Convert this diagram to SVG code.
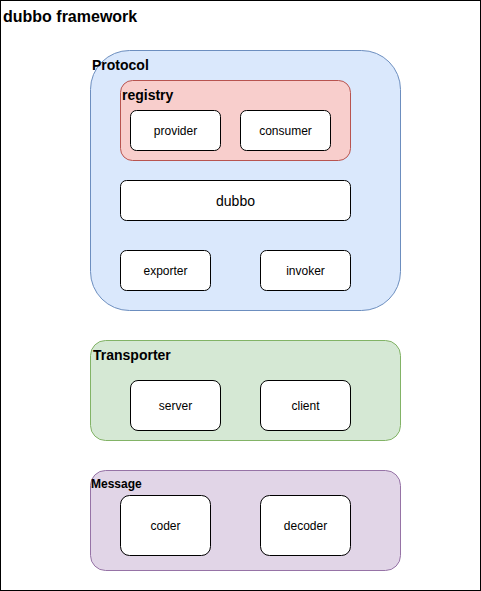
<svg xmlns="http://www.w3.org/2000/svg" width="481" height="591" viewBox="0 0 481 591">
<style>
text{font-family:"Liberation Sans",Arial,sans-serif;fill:#000}
.t{font-weight:bold}
.n{fill:#fff;stroke:#000;stroke-width:1}
.l{font-size:12px;text-anchor:middle}
</style>
<rect width="481" height="591" fill="#fff"/>
<g id="framework">
<rect x="0.5" y="0.5" width="480" height="590" fill="#fff" stroke="#000"/>
<text class="t" x="3" y="22" font-size="16">dubbo framework</text>
</g>
<g id="protocol">
<rect x="90.5" y="50.5" width="310" height="260" rx="39" fill="#dae8fc" stroke="#6c8ebf"/>
<text class="t" x="92" y="70" font-size="14">Protocol</text>
</g>
<g id="registry">
<rect x="120.5" y="80.5" width="230" height="80" rx="12" fill="#f8cecc" stroke="#b85450"/>
<text class="t" x="122" y="100" font-size="14">registry</text>
</g>
<g id="provider"><rect class="n" x="130.5" y="110.5" width="90" height="40" rx="6"/><text class="l" x="175.5" y="135">provider</text></g>
<g id="consumer"><rect class="n" x="240.5" y="110.5" width="90" height="40" rx="6"/><text class="l" x="285.5" y="135">consumer</text></g>
<g id="dubbo"><rect class="n" x="120.5" y="180.5" width="230" height="40" rx="6"/><text x="235.5" y="205.5" font-size="14" text-anchor="middle">dubbo</text></g>
<g id="exporter"><rect class="n" x="120.5" y="250.5" width="90" height="40" rx="6"/><text class="l" x="165.5" y="275">exporter</text></g>
<g id="invoker"><rect class="n" x="260.5" y="250.5" width="90" height="40" rx="6"/><text class="l" x="305.5" y="275">invoker</text></g>
<g id="transporter">
<rect x="90.5" y="340.5" width="310" height="100" rx="15" fill="#d5e8d4" stroke="#82b366"/>
<text class="t" x="93" y="360" font-size="14">Transporter</text>
</g>
<g id="server"><rect class="n" x="130.5" y="380.5" width="90" height="50" rx="7.5"/><text class="l" x="175.5" y="410">server</text></g>
<g id="client"><rect class="n" x="260.5" y="380.5" width="90" height="50" rx="7.5"/><text class="l" x="305.5" y="410">client</text></g>
<g id="message">
<rect x="90.5" y="470.5" width="310" height="100" rx="15" fill="#e1d5e7" stroke="#9673a6"/>
<text class="t" x="91" y="488" font-size="12">Message</text>
</g>
<g id="coder"><rect class="n" x="120.5" y="495.5" width="90" height="60" rx="9"/><text class="l" x="165.5" y="530">coder</text></g>
<g id="decoder"><rect class="n" x="260.5" y="495.5" width="90" height="60" rx="9"/><text class="l" x="305.5" y="530">decoder</text></g>
<g id="connectors"></g>
</svg>
